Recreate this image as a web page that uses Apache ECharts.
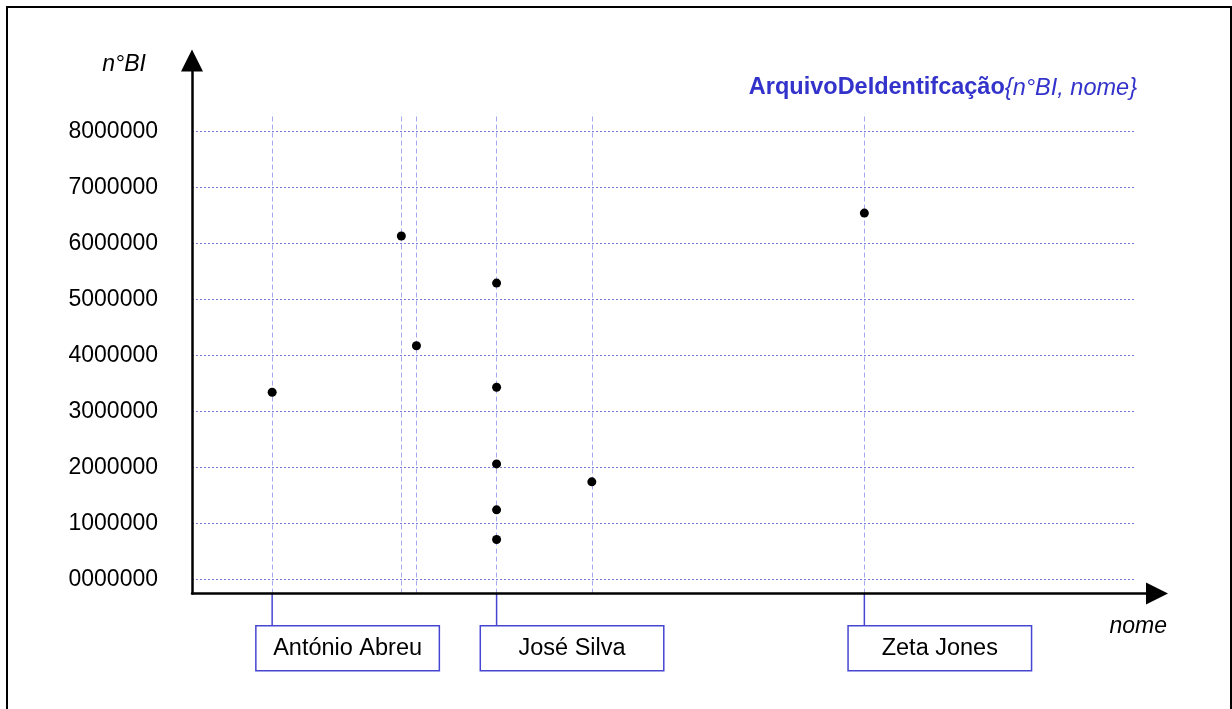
<!DOCTYPE html>
<html>
<head>
<meta charset="utf-8">
<script src="https://cdn.jsdelivr.net/npm/echarts@6/dist/echarts.min.js"></script>
<style>
  html, body { margin: 0; padding: 0; background: #fff; }
  #chart { width: 1232px; height: 709px; }
</style>
</head>
<body>
<div id="chart"></div>
<script>
// dados: posição ao longo do eixo "nome" (0..100) e nºBI de cada registo
const pointX  = [8.5, 22.2, 23.8, 32.3, 32.3, 32.3, 32.3, 32.3, 42.4, 71.3];
const pointBI = [3340000, 6130000, 4170000, 5290000, 3430000, 2060000, 1240000, 710000, 1740000, 6540000];

// nomes etiquetados por baixo do eixo
const names = ['António Abreu', 'José Silva', 'Zeta Jones'];
const nameX = [8.5, 32.3, 71.3];

// linhas verticais (um valor de nome distinto por linha)
const nameLines = [8.5, 22.2, 23.8, 32.3, 42.4, 71.3];

// eixo y
const yTicks = [0, 1000000, 2000000, 3000000, 4000000, 5000000, 6000000, 7000000, 8000000];
const yTickLabels = ['0000000', '1000000', '2000000', '3000000', '4000000', '5000000', '6000000', '7000000', '8000000'];

// layout em pixeis
const W = 1232, H = 709;
const left = 192, gridRight = 1135;
const yTopPx = 131.3, yZeroPx = 579.3;   // 8000000 e 0
const plotTop = 113.3, axisY = 593.5;
const pxPerUnit = (yZeroPx - yTopPx) / yTicks[yTicks.length - 1];
const yMinA = -(axisY - yZeroPx) / pxPerUnit;
const yMaxA = yTicks[yTicks.length - 1] + (yTopPx - plotTop) / pxPerUnit;

const FONT = 'Liberation Sans, Arial, Helvetica, sans-serif';
const BLUE = '#3333cc';
const BOX = '#4646d2';

const chart = echarts.init(document.getElementById('chart'));

const hidden = { show: false };

chart.setOption({
  animation: false,
  backgroundColor: '#fff',
  title: {
    text: '{b|ArquivoDeIdentifcação}{n°BI, nome}',
    right: W - 1137,
    top: 74,
    padding: 0,
    textStyle: {
      fontFamily: FONT, fontSize: 23.5, fontStyle: 'italic', fontWeight: 'normal',
      color: BLUE, lineHeight: 28,
      rich: {
        b: { fontFamily: FONT, fontSize: 23.5, fontWeight: 'bold', fontStyle: 'normal', color: BLUE, lineHeight: 28 }
      }
    }
  },
  grid: [
    // A: pontos e linhas verticais
    { left: left, right: W - gridRight, top: plotTop, bottom: H - axisY },
    // B: grelha horizontal e etiquetas
    { left: left, right: W - gridRight, top: yTopPx, bottom: H - yZeroPx },
    // C: eixos com setas
    { left: left, right: W - 1157, top: 60.5, bottom: H - axisY },
    // D: caixas dos nomes
    { left: left, right: W - gridRight, top: axisY, bottom: H - 670.7 }
  ],
  xAxis: [
    { gridIndex: 0, type: 'value', min: 0, max: 100, show: false },
    { gridIndex: 1, type: 'value', min: 0, max: 100, show: false },
    {
      gridIndex: 2, type: 'value', min: 0, max: 1,
      axisLine: { show: true, symbol: ['none', 'triangle'], symbolSize: [22, 22],
                  lineStyle: { color: '#000', width: 2.5 } },
      axisTick: hidden, axisLabel: hidden, splitLine: hidden, z: 10
    },
    { gridIndex: 3, type: 'value', min: 0, max: 100, show: false }
  ],
  yAxis: [
    { gridIndex: 0, type: 'value', min: yMinA, max: yMaxA, show: false },
    {
      gridIndex: 1, type: 'value', min: 0, max: yTicks[yTicks.length - 1], interval: 1000000,
      axisLine: hidden, axisTick: hidden,
      axisLabel: {
        margin: 34, color: '#000', fontFamily: FONT, fontSize: 23,
        formatter: v => yTickLabels[yTicks.indexOf(v)]
      },
      splitLine: { show: true, lineStyle: { color: '#7676d6', width: 1, type: [2, 2] } }
    },
    {
      gridIndex: 2, type: 'value', min: 0, max: 1,
      axisLine: { show: true, symbol: ['none', 'triangle'], symbolSize: [22, 22],
                  lineStyle: { color: '#000', width: 2.5 } },
      axisTick: hidden, axisLabel: hidden, splitLine: hidden, z: 10
    },
    { gridIndex: 3, type: 'value', min: 0, max: 1, show: false }
  ],
  graphic: [
    { type: 'rect', shape: { x: 7, y: 7, width: 1224, height: 800 },
      style: { fill: 'none', stroke: '#000', lineWidth: 2 }, silent: true },
    { type: 'text', x: 146, y: 65,
      style: { text: 'n°BI', font: 'italic 23px ' + FONT, fill: '#000', align: 'right', verticalAlign: 'middle' } },
    { type: 'text', x: 1167, y: 627,
      style: { text: 'nome', font: 'italic 23px ' + FONT, fill: '#000', align: 'right', verticalAlign: 'middle' } }
  ],
  series: [
    {
      type: 'scatter',
      xAxisIndex: 0, yAxisIndex: 0,
      data: pointX.map((x, i) => [x, pointBI[i]]),
      symbolSize: 9,
      itemStyle: { color: '#000', opacity: 1 },
      z: 5,
      markLine: {
        silent: true,
        symbol: 'none',
        label: { show: false },
        lineStyle: { color: '#a8a8f0', width: 1, type: [5, 3] },
        data: nameLines.map(v => ({ xAxis: v }))
      }
    },
    {
      type: 'custom',
      xAxisIndex: 3, yAxisIndex: 3,
      data: nameX.map((x, i) => [x, i]),
      renderItem: (params, api) => {
        const top = api.coord([api.value(0), 1]);
        const bottom = api.coord([api.value(0), 0]);
        const boxW = 183.5, boxH = 45;
        const boxTop = bottom[1] - boxH;
        const bx = top[0] - 16.3;
        return {
          type: 'group',
          children: [
            { type: 'line', shape: { x1: top[0], y1: top[1], x2: top[0], y2: boxTop },
              style: { stroke: BOX, lineWidth: 1.5 } },
            { type: 'rect', shape: { x: bx, y: boxTop, width: boxW, height: boxH },
              style: { fill: '#fff', stroke: BOX, lineWidth: 1.5 } },
            { type: 'text', x: bx + boxW / 2, y: boxTop + boxH / 2,
              style: { text: names[params.dataIndex], font: '23.5px ' + FONT, fill: '#000',
                       align: 'center', verticalAlign: 'middle' } }
          ]
        };
      }
    }
  ]
});
</script>
</body>
</html>
